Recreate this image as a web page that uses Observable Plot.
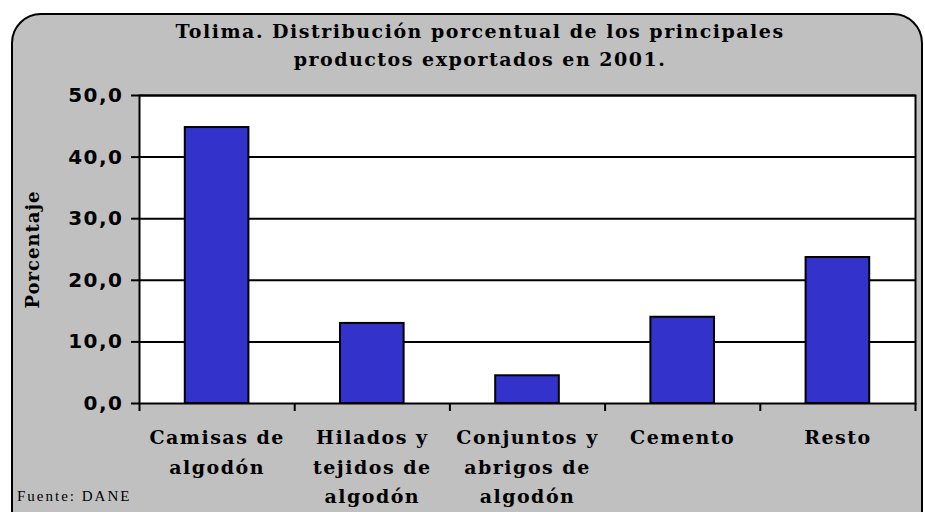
<!DOCTYPE html>
<html>
<head>
<meta charset="utf-8">
<script src="https://cdn.jsdelivr.net/npm/d3@7"></script>
<script src="https://cdn.jsdelivr.net/npm/@observablehq/plot@0.6"></script>
<style>
  html, body { margin: 0; padding: 0; background: #ffffff; }
  #wrap { position: relative; width: 925px; height: 512px; overflow: hidden; background: #ffffff; }
  #box { position: absolute; left: 11px; top: 13px; width: 908px; height: 540px; border: 2px solid #000; border-radius: 30px; background: #c0c0c0; }
  #title { position: absolute; left: 0; top: 17px; width: 960px; text-align: center; font-family: "DejaVu Serif", serif; font-weight: bold; font-size: 19px; letter-spacing: 1.5px; line-height: 28px; color: #000; }
  #source { position: absolute; left: 17px; top: 488px; font-family: "Liberation Serif", serif; font-size: 15px; letter-spacing: 2px; color: #000; }
  #chart { position: absolute; left: 0; top: 0; }
</style>
</head>
<body>
<div id="wrap">
  <div id="box"></div>
  <div id="title">Tolima. Distribución porcentual de los principales<br>productos exportados en 2001.</div>
  <div id="chart"></div>
  <div id="source">Fuente: DANE</div>
</div>
<script>
const categories = ["Camisas de\nalgodón", "Hilados y\ntejidos de\nalgodón", "Conjuntos y\nabrigos de\nalgodón", "Cemento", "Resto"];
const values = [44.8, 13.0, 4.5, 14.0, 23.7];
const yTicks = [0, 10, 20, 30, 40, 50];
const yLabel = "Porcentaje";

const data = categories.map((c, i) => ({i, label: c, value: values[i]}));
const fmt = d => d.toFixed(1).replace(".", ",");

const chart = Plot.plot({
  width: 925,
  height: 512,
  marginLeft: 139,
  marginRight: 10,
  marginTop: 95,
  marginBottom: 109,
  style: {background: "transparent", overflow: "visible"},
  x: {domain: [0, categories.length], axis: null},
  y: {domain: [0, 50], axis: null},
  marks: [
    Plot.frame({fill: "white"}),
    Plot.gridY(yTicks.slice(1), {stroke: "black", strokeOpacity: 1, strokeWidth: 2}),
    Plot.rectY(data, {x1: d => d.i + 0.295, x2: d => d.i + 0.705, y: "value", fill: "#3333cc", stroke: "black", strokeWidth: 2}),
    Plot.frame({stroke: "black", strokeWidth: 2}),
    Plot.axisY({ticks: yTicks, tickFormat: fmt, tickSize: 8, tickPadding: 8, strokeWidth: 2,
      fontSize: 20, fontWeight: "bold", fontFamily: "DejaVu Sans", label: null}),
    Plot.axisX({ticks: d3.range(categories.length + 1), tickFormat: () => "", tickSize: 8, strokeWidth: 2, label: null}),
    Plot.text(data, {x: d => d.i + 0.5, y: 0, text: "label", lineAnchor: "top", dy: 20, lineHeight: 1.55,
      fontSize: 19, fontWeight: "bold", fontFamily: "DejaVu Serif", fill: "black"}),
    Plot.text([yLabel], {frameAnchor: "left", rotate: -90, dx: -106, text: d => d, textAnchor: "middle",
      fontSize: 18, fontWeight: "bold", fontFamily: "DejaVu Serif", fill: "black"})
  ]
});
const textGroups = chart.querySelectorAll('g[aria-label="text"]');
if (textGroups[0]) { textGroups[0].setAttribute("font-family", "DejaVu Serif"); textGroups[0].style.fontFamily = '"DejaVu Serif", serif'; textGroups[0].style.letterSpacing = "1.5px"; }
if (textGroups[1]) { textGroups[1].setAttribute("font-family", "DejaVu Serif"); textGroups[1].style.fontFamily = '"DejaVu Serif", serif'; textGroups[1].style.letterSpacing = "1px"; }
chart.querySelectorAll('g[aria-label="y-axis tick label"]').forEach(g => { g.style.fontFamily = '"DejaVu Sans", sans-serif'; g.style.letterSpacing = "1.5px"; });
document.getElementById("chart").appendChild(chart);
</script>
</body>
</html>
